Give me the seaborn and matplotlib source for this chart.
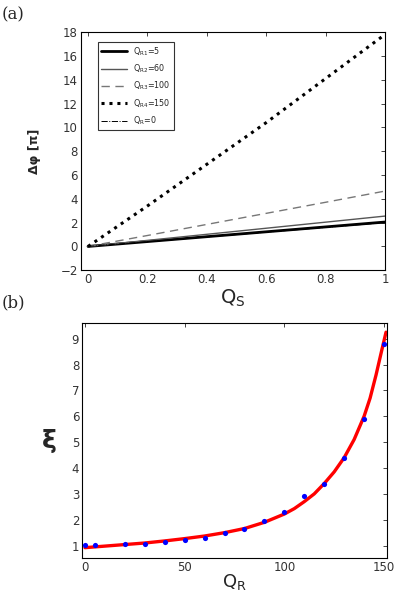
import matplotlib
matplotlib.use('Agg')
import matplotlib.pyplot as plt
import seaborn as sns

# Panel (a): phase shift vs Q_S for several Q_R
qs = [0, 0.2, 0.4, 0.6, 0.8, 1.0]
dphi_r1 = [0, 0.41, 0.82, 1.23, 1.64, 2.05]
dphi_r2 = [0, 0.51, 1.02, 1.53, 2.04, 2.55]
dphi_r3 = [0, 0.92, 1.85, 2.78, 3.71, 4.65]
dphi_r4 = [0, 3.4, 6.9, 10.4, 14.1, 17.8]
dphi_r0 = [0, 0.40, 0.80, 1.20, 1.60, 2.00]
labels_a = [r'Q$_{\mathrm{R1}}$=5', r'Q$_{\mathrm{R2}}$=60', r'Q$_{\mathrm{R3}}$=100',
            r'Q$_{\mathrm{R4}}$=150', r'Q$_{\mathrm{R}}$=0']

# Panel (b): measured xi vs Q_R and fitted curve
qr_pts = [0, 5, 20, 30, 40, 50, 60, 70, 80, 90, 100, 110, 120, 130, 140, 150]
xi_pts = [1.02, 1.02, 1.05, 1.07, 1.15, 1.23, 1.30, 1.50, 1.65, 1.95, 2.30, 2.93, 3.40, 4.40, 5.88, 8.80]
qr_fit = [0, 10, 20, 30, 40, 50, 60, 70, 80, 90, 100, 105, 110, 115, 120, 125, 130, 135, 140, 143, 146, 149, 151]
xi_fit = [0.92, 0.98, 1.04, 1.10, 1.18, 1.27, 1.37, 1.50, 1.66, 1.90, 2.22, 2.43, 2.70, 3.00, 3.40, 3.85, 4.40, 5.10, 6.00, 6.70, 7.60, 8.60, 9.25]

sns.set_style('white')
plt.rcParams['font.family'] = ['DejaVu Sans']
plt.rcParams['mathtext.fontset'] = 'dejavusans'

fig = plt.figure(figsize=(3.99, 5.94), dpi=100)
ax1 = fig.add_axes([0.202, 0.545, 0.763, 0.401])
ax2 = fig.add_axes([0.2055, 0.0606, 0.7645, 0.3954])

styles = [
    dict(color='black', lw=2.0, ls='-'),
    dict(color='#555555', lw=1.0, ls='-'),
    dict(color='#777777', lw=1.0, ls=(0, (6, 4))),
    dict(color='black', lw=2.2, ls=(0, (1, 1.6))),
    dict(color='black', lw=0.7, ls='-.'),
]
series = [dphi_r1, dphi_r2, dphi_r3, dphi_r4, dphi_r0]
for vals, lab, st in zip(series, labels_a, styles):
    sns.lineplot(x=qs, y=vals, ax=ax1, label=lab, color=st['color'],
                 linewidth=st['lw'], linestyle=st['ls'])

ax1.set_xlim(-0.025, 1.0)
ax1.set_ylim(-2, 18)
ax1.set_xticks([0, 0.2, 0.4, 0.6, 0.8, 1])
ax1.set_xticklabels(['0', '0.2', '0.4', '0.6', '0.8', '1'])
ax1.set_yticks(range(-2, 19, 2))
ax1.set_ylabel('Δφ [π]', fontsize=9, fontweight='bold', labelpad=14)
ax1.set_xlabel(r'Q$_{\mathrm{S}}$', fontsize=14, labelpad=1)
leg = ax1.legend(loc='upper left', fontsize=5.8, frameon=True, fancybox=False,
                 edgecolor='black', handlelength=3.2, borderaxespad=0.8,
                 labelspacing=0.6, bbox_to_anchor=(0.035, 0.985))
leg.get_frame().set_linewidth(0.8)

sns.lineplot(x=qr_fit, y=xi_fit, ax=ax2, color='red', linewidth=2.4)
sns.scatterplot(x=qr_pts, y=xi_pts, ax=ax2, color='blue', s=14, edgecolor='blue',
                linewidth=0, zorder=3)
ax2.set_xlim(-1.5, 151.5)
ax2.set_ylim(0.52, 9.6)
ax2.set_xticks([0, 50, 100, 150])
ax2.set_yticks(range(1, 10))
ax2.set_ylabel('ξ', fontsize=18, fontweight='bold', rotation=0, labelpad=16, va='center')
ax2.set_xlabel(r'Q$_{\mathrm{R}}$', fontsize=13, labelpad=-1)

for ax in (ax1, ax2):
    ax.tick_params(direction='in', length=3, width=0.6, labelsize=8.5,
                   labelcolor='#333333', top=True, right=True, pad=2)
    for sp in ax.spines.values():
        sp.set_linewidth(0.8)
        sp.set_color('black')

fig.text(0.005, 0.99, '(a)', fontsize=12, family='DejaVu Serif', va='top')
fig.text(0.005, 0.505, '(b)', fontsize=12, family='DejaVu Serif', va='top')

fig.savefig('out.png', dpi=100)
